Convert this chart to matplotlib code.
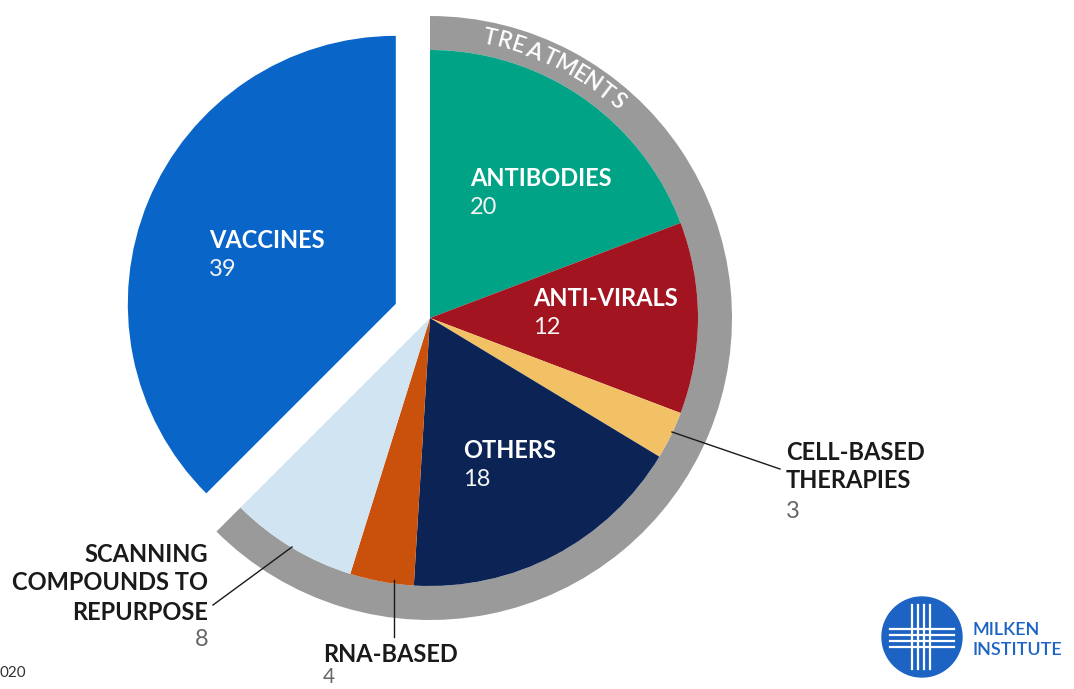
import numpy as np
import matplotlib.pyplot as plt
from matplotlib.patches import Circle
from matplotlib.textpath import TextPath
from matplotlib.font_manager import FontProperties

# data, clockwise from 12 o'clock
categories = ["ANTIBODIES", "ANTI-VIRALS", "CELL-BASED\nTHERAPIES", "OTHERS",
              "RNA-BASED", "SCANNING\nCOMPOUNDS TO\nREPURPOSE", "VACCINES"]
counts = [20, 12, 3, 18, 4, 8, 39]
colors = ["#00A386", "#A2141F", "#F2C166", "#0B2455", "#C9510C", "#D0E4F1", "#0A65C9"]
pulled_out = [False, False, False, False, False, False, True]

ring_groups = ["TREATMENTS", ""]
ring_values = [sum(counts[:6]), counts[6]]

W, H = 1074, 689
fig = plt.figure(figsize=(W / 100, H / 100), dpi=100)
ax = fig.add_axes([0, 0, 1, 1])

cx, cy = 430, H - 318
R = 268
explode = [37 if p else 0 for p in pulled_out]

# gray treatments ring
ax.pie(ring_values, radius=R + 34, center=(cx, cy), startangle=90, counterclock=False,
       colors=["#9A9A9A", "none"], wedgeprops=dict(width=34, linewidth=0))
# main pie
ax.pie(counts, radius=R, center=(cx, cy), startangle=90, counterclock=False,
       colors=colors, explode=explode, wedgeprops=dict(linewidth=0))

ax.set_xlim(0, W)
ax.set_ylim(0, H)
ax.set_aspect("equal")
ax.axis("off")

font = "Lato"
fs = 17
def Y(y):
    return H - y

# labels inside the pie
inner = [("ANTIBODIES", "20", 470, 178), ("VACCINES", "39", 209, 241),
         ("ANTI-VIRALS", "12", 533, 298), ("OTHERS", "18", 463, 450)]
for name, num, x, y in inner:
    ax.text(x, Y(y), name, color="white", fontsize=fs, fontweight="bold",
            family=font, va="center", ha="left")
    ax.text(x, Y(y + 29), num, color="#F4F4F4", fontsize=fs, fontweight="normal",
            family=font, va="center", ha="left")

# outside labels
dark = "#1A1A1A"
grey = "#666666"
ax.text(786, Y(452), "CELL-BASED", color=dark, fontsize=fs, fontweight="bold", family=font, va="center")
ax.text(786, Y(481), "THERAPIES", color=dark, fontsize=fs, fontweight="bold", family=font, va="center")
ax.text(786, Y(512), str(counts[2]), color=grey, fontsize=fs, family=font, va="center")
ax.plot([672, 780], [Y(432), Y(469)], color=dark, lw=1)

for i, line in enumerate(["SCANNING", "COMPOUNDS TO", "REPURPOSE"]):
    ax.text(208, Y(554 + 29 * i), line, color=dark, fontsize=fs, fontweight="bold",
            family=font, va="center", ha="right")
ax.text(208, Y(640), str(counts[5]), color=grey, fontsize=fs,
        family=font, va="center", ha="right")
ax.plot([292, 213], [Y(547), Y(605)], color=dark, lw=1)

ax.text(323, Y(655), "RNA-BASED", color=dark, fontsize=fs, fontweight="bold", family=font, va="center")
ax.text(323, Y(677), str(counts[4]), color=grey, fontsize=15, family=font, va="center")
ax.plot([394, 394], [Y(580), Y(637)], color=dark, lw=1)

# curved TREATMENTS text along the ring
fp = FontProperties(family=font, weight="semibold", size=16.5)
word = ring_groups[0]
widths = []
for ch in word:
    ext = TextPath((0, 0), ch, prop=fp).get_extents()
    widths.append(ext.width * 100 / 72 + 2.8)
r_txt = 286
ang = np.deg2rad(10.5)
for ch, w in zip(word, widths):
    a = ang + (w / 2) / r_txt
    x = cx + r_txt * np.sin(a)
    y = cy + r_txt * np.cos(a)
    ax.text(x, y, ch, color="white", fontproperties=fp, ha="center", va="center",
            rotation=-np.rad2deg(a), rotation_mode="anchor")
    ang += w / r_txt

# source fragment bottom left
ax.text(0, Y(673), "020", color="#333333", fontsize=11, family=font, va="center")

# logo
lx, ly, lr = 922, Y(637), 40
blue = "#1C63C4"
logo = Circle((lx, ly), lr, color=blue, zorder=3)
ax.add_patch(logo)
for off in [-10, -4, 2, 8]:
    l1, = ax.plot([lx - 32, lx + 32], [ly + off, ly + off], color="white", lw=1.6, zorder=4)
    l2, = ax.plot([lx + off, lx + off], [ly - 32, ly + 32], color="white", lw=1.6, zorder=4)
    l1.set_clip_path(logo)
    l2.set_clip_path(logo)
ax.text(972, Y(630), "MILKEN", color=blue, fontsize=13, fontweight="semibold", family=font, va="center")
ax.text(972, Y(650), "INSTITUTE", color=blue, fontsize=13, fontweight="semibold", family=font, va="center")

plt.savefig("out.png", dpi=100)
plt.close()
